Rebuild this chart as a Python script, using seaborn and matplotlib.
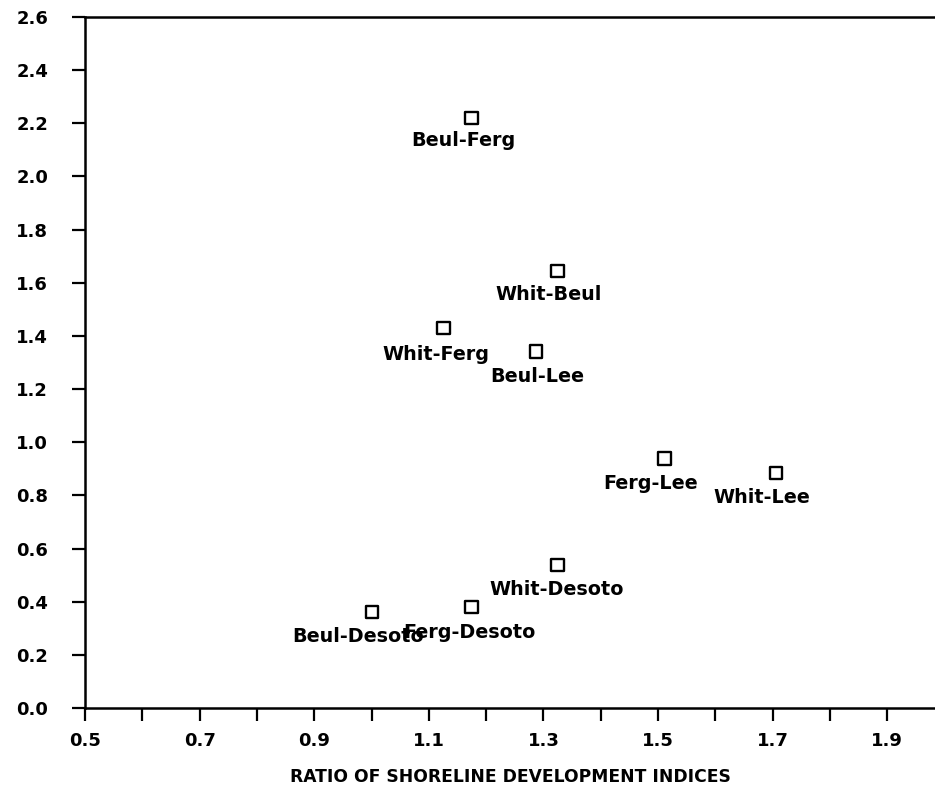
import matplotlib
matplotlib.use("Agg")
import matplotlib.pyplot as plt
import seaborn as sns
import pandas as pd
import numpy as np

pairs = ["Beul-Ferg", "Whit-Beul", "Whit-Ferg", "Beul-Lee", "Ferg-Lee",
         "Whit-Lee", "Whit-Desoto", "Beul-Desoto", "Ferg-Desoto"]
ratio_x = [1.174, 1.324, 1.125, 1.287, 1.512, 1.706, 1.324, 1.001, 1.175]
value_y = [2.22, 1.644, 1.43, 1.34, 0.94, 0.884, 0.538, 0.361, 0.38]
x_ticks = [0.5, 0.7, 0.9, 1.1, 1.3, 1.5, 1.7, 1.9]
y_ticks = [0.0, 0.2, 0.4, 0.6, 0.8, 1.0, 1.2, 1.4, 1.6, 1.8, 2.0, 2.2, 2.4, 2.6]
x_title = "RATIO OF SHORELINE DEVELOPMENT INDICES"

# label offsets in pixels (dx, dy) relative to marker
label_offsets = {
    "Beul-Ferg": (-8, -23), "Whit-Beul": (-9, -23), "Whit-Ferg": (-7, -27),
    "Beul-Lee": (1, -25), "Ferg-Lee": (-14, -25), "Whit-Lee": (-14, -24),
    "Whit-Desoto": (0, -24), "Beul-Desoto": (-14, -24), "Ferg-Desoto": (-2, -25),
}

df = pd.DataFrame({"pair": pairs, "x": ratio_x, "y": value_y})

sns.set_style("white")
plt.rcParams['font.family'] = ['DejaVu Sans']
plt.rcParams['text.color'] = 'black'
plt.rcParams['xtick.color'] = 'black'
plt.rcParams['ytick.color'] = 'black'
plt.rcParams['axes.labelcolor'] = 'black'

fig = plt.figure(figsize=(9.35, 7.99), dpi=100)
ax = fig.add_axes([85/935, 91/799, 850/935, 691/799])

sns.scatterplot(data=df, x="x", y="y", marker="s", s=85,
                facecolor="none", edgecolor="black", linewidth=1.7, ax=ax, zorder=3)

for p, xv, yv in zip(pairs, ratio_x, value_y):
    dx, dy = label_offsets[p]
    ax.annotate(p, (xv, yv), xytext=(dx, dy), textcoords="offset pixels",
                ha="center", va="center", fontsize=13.8, fontweight="bold",
                color="black")

ax.set_xlim(0.5, 0.5 + 850/573)
ax.set_ylim(0, 2.6)
ax.set_xticks(x_ticks)
ax.set_xticklabels([f"{v:.1f}" for v in x_ticks])
ax.set_xticks([0.6, 0.8, 1.0, 1.2, 1.4, 1.6, 1.8], minor=True)
ax.set_yticks(y_ticks)
ax.set_yticklabels([f"{v:.1f}" for v in y_ticks])
ax.tick_params(axis="both", which="both", direction="out", length=9.5, width=1.6,
               color="black", labelcolor="black", labelsize=13,
               bottom=True, left=True, top=False, right=False)
ax.tick_params(axis="x", which="both", pad=8)
ax.tick_params(axis="y", which="both", pad=17)
for lab in ax.get_xticklabels() + ax.get_yticklabels():
    lab.set_fontweight("bold")

for side in ["top", "left", "bottom"]:
    ax.spines[side].set_visible(True)
    ax.spines[side].set_color("black")
    ax.spines[side].set_linewidth(1.8)
ax.spines["right"].set_visible(False)

ax.set_xlabel(x_title, fontsize=12.3, fontweight="bold", labelpad=13, color="black")
ax.set_ylabel("")

fig.savefig("out.png", dpi=100)
